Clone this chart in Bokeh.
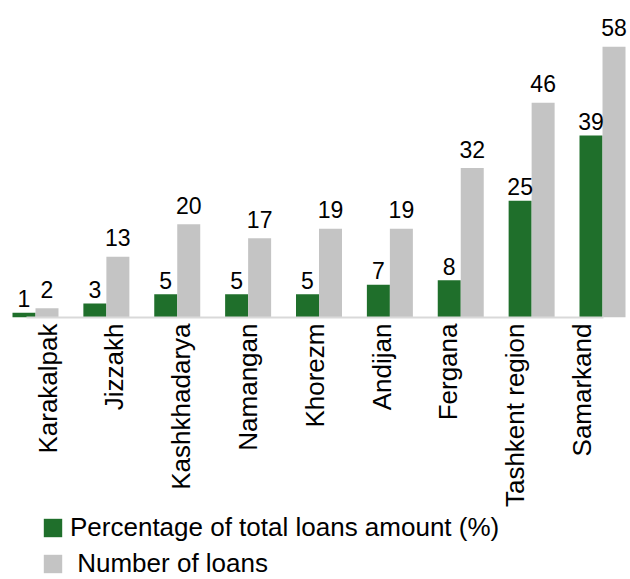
from math import pi
from bokeh.plotting import figure
from bokeh.layouts import column
from bokeh.models import (Range1d, LinearAxis, FixedTicker, ColumnDataSource,
                          Legend, LegendItem)
from bokeh.transform import dodge
from bokeh.core.properties import value
from bokeh.embed import file_html
from bokeh.resources import INLINE

regions = ["Karakalpak", "Jizzakh", "Kashkhadarya", "Namangan", "Khorezm",
           "Andijan", "Fergana", "Tashkent region", "Samarkand"]
pct_amount = [1, 3, 5, 5, 5, 7, 8, 25, 39]
num_loans = [2, 13, 20, 17, 19, 19, 32, 46, 58]
series_names = ["Percentage of total loans amount (%)", "\u00a0Number of loans"]

GREEN = "#1f6f2b"
GREY = "#c4c4c4"
FONT = "Liberation Sans"

pos = list(range(len(regions)))
src = ColumnDataSource(dict(
    x=pos, pct=pct_amount, num=num_loans,
    pct_lbl=[str(v) for v in pct_amount],
    num_lbl=[str(v) for v in num_loans],
))

LEG_H = 68
p = figure(width=630, height=579 - LEG_H, min_border=0, min_border_bottom=194,
           toolbar_location=None, output_backend="svg",
           x_range=Range1d(-0.4938, 8.395), y_range=Range1d(0, 67.9),
           x_axis_type=None, y_axis_type=None)
p.outline_line_color = None
p.background_fill_color = "white"
p.border_fill_color = "white"

bw = 0.3245
p.vbar(x=dodge("x", -bw / 2), top="pct", width=bw, bottom=0,
       fill_color=GREEN, line_color=None, source=src)
p.vbar(x=dodge("x", bw / 2), top="num", width=bw, bottom=0,
       fill_color=GREY, line_color=None, source=src)

p.text(x=dodge("x", -bw / 2), y="pct", text="pct_lbl", source=src,
       text_align="center", text_baseline="alphabetic", y_offset=-14,
       text_font=value(FONT), text_font_size="23px", text_color="black")
p.text(x=dodge("x", bw / 2), y="num", text="num_lbl", source=src,
       text_align="center", text_baseline="alphabetic", y_offset=-19,
       text_font=value(FONT), text_font_size="23px", text_color="black")

p.extra_x_ranges = {"lab": Range1d(-0.7036, 8.727)}
ax = LinearAxis(x_range_name="lab", ticker=FixedTicker(ticks=pos),
                major_label_overrides={i: r for i, r in enumerate(regions)},
                major_label_orientation=pi / 2,
                bounds=(-0.314, 8.323))
ax.major_tick_line_color = None
ax.minor_tick_line_color = None
ax.major_tick_out = 0
ax.major_tick_in = 0
ax.major_label_standoff = 6
ax.axis_line_color = "#d9d9d9"
ax.axis_line_width = 2
ax.major_label_text_font = FONT
ax.major_label_text_font_size = "26px"
ax.major_label_text_color = "black"
p.add_layout(ax, "below")

# legend strip below the chart (proxy renderers are hidden; legend always active)
q = figure(width=630, height=LEG_H, min_border=0, toolbar_location=None,
           output_backend="svg", x_range=Range1d(0, 1), y_range=Range1d(0, 1),
           x_axis_type=None, y_axis_type=None)
q.outline_line_color = None
q.background_fill_color = "white"
q.border_fill_color = "white"
g1 = q.vbar(x="x", top="pct", bottom=0, width=bw, fill_color=GREEN,
            line_color=None, source=src, visible=False)
g2 = q.vbar(x="x", top="num", bottom=0, width=bw, fill_color=GREY,
            line_color=None, source=src, visible=False)

legend = Legend(items=[
    LegendItem(label=series_names[0], renderers=[g1]),
    LegendItem(label=series_names[1], renderers=[g2]),
], location=(41, 0))
legend.click_policy = "none"
legend.padding = 0
legend.margin = 0
legend.spacing = 5
legend.glyph_width = 23
legend.glyph_height = 23
legend.label_height = 24
legend.label_standoff = 6
legend.label_text_font = FONT
legend.label_text_font_size = "26px"
legend.label_text_color = "black"
legend.border_line_color = None
legend.background_fill_alpha = 0
legend.inactive_fill_alpha = 0
q.add_layout(legend)

open("out.html", "w").write(file_html(column(p, q, spacing=0), INLINE))
